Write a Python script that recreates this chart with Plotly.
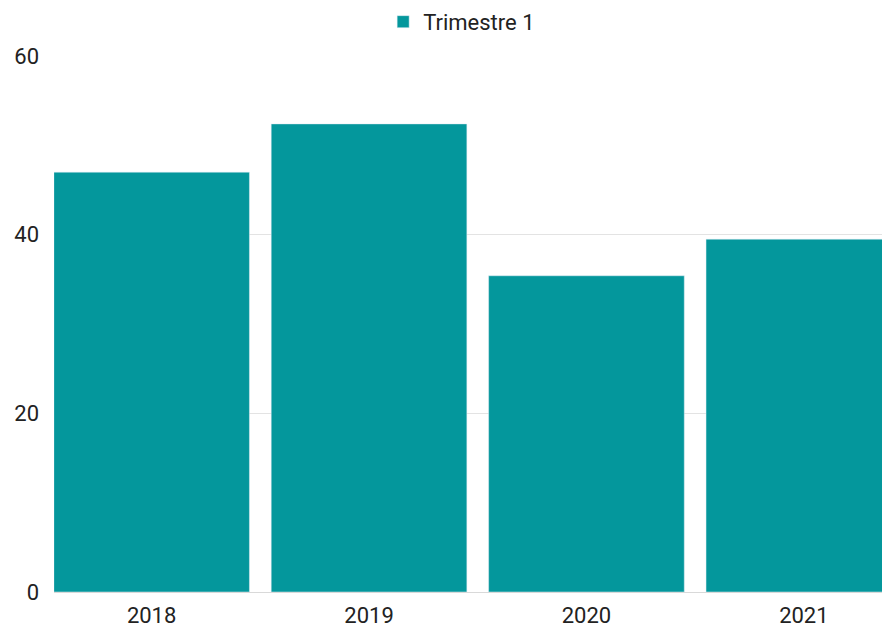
import plotly.graph_objects as go

years = ["2018", "2019", "2020", "2021"]
values = [47.0, 52.4, 35.4, 39.5]
series_name = "Trimestre 1"

fig = go.Figure()
fig.add_trace(go.Bar(x=years, y=values, name=series_name, marker_color="#04979C",
                     showlegend=True))

fig.update_layout(
    width=890, height=630,
    margin=dict(l=46, r=0, t=48, b=46),
    plot_bgcolor="white", paper_bgcolor="white",
    font=dict(family="Roboto", size=22, color="#222222"),
    bargap=0.1,
    showlegend=True,
    legend=dict(orientation="h", x=0.483, xanchor="center",
                yref="container", y=0.978, yanchor="middle",
                font=dict(size=22), itemwidth=30),
    xaxis=dict(range=[-0.449, 3.433], showgrid=False, showline=True,
               linecolor="#d9d9d9", linewidth=1, ticklabelstandoff=4),
    yaxis=dict(range=[0, 60], tickvals=[0, 20, 40, 60], showgrid=True,
               gridcolor="#e3e3e3", gridwidth=1, zeroline=False,
               ticklabelstandoff=14),
)

fig.write_html("out.html")
